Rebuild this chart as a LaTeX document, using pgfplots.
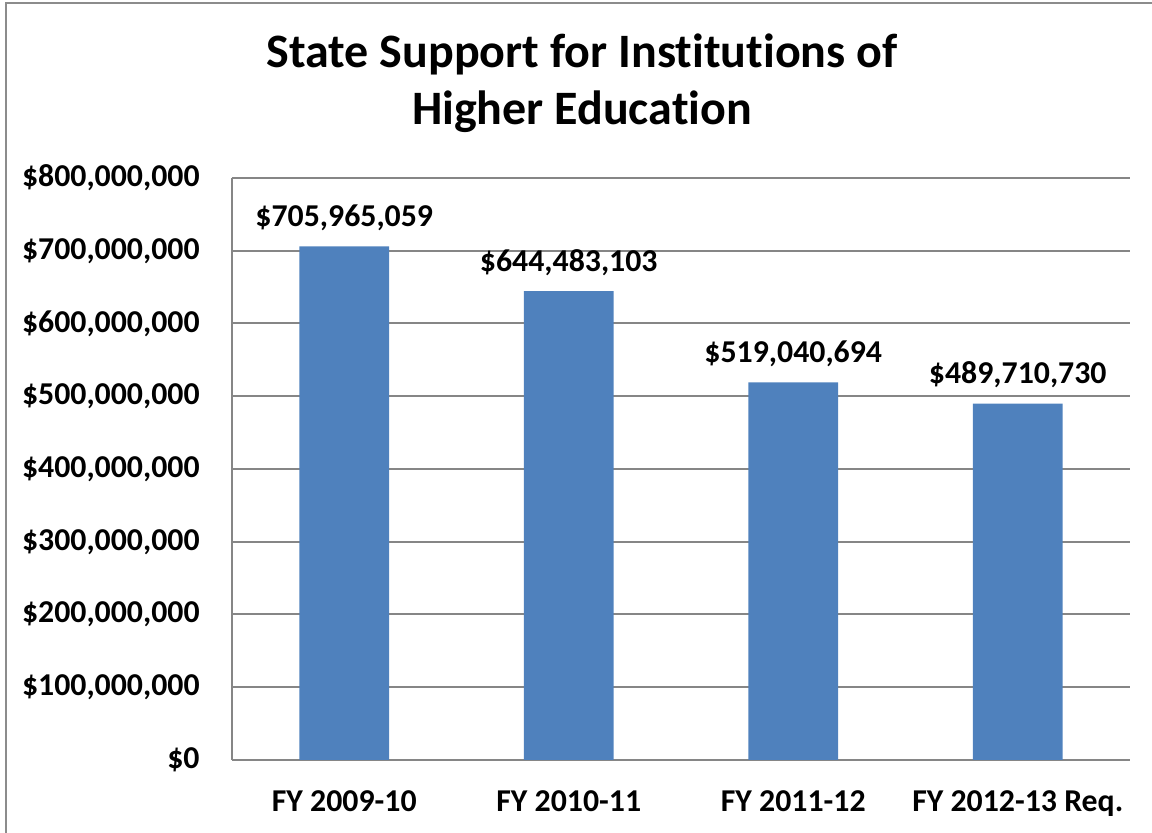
\documentclass[border=0pt]{standalone}
\usepackage{pgfplots}
\pgfplotsset{compat=1.18}
\usepackage{fontspec}
\setmainfont[Ligatures=NoCommon]{Carlito}
\definecolor{barblue}{HTML}{4F81BD}
\definecolor{gridgray}{HTML}{868686}
\definecolor{framegray}{HTML}{8C8C8C}
\begin{document}
\begin{tikzpicture}
\useasboundingbox (0,0) rectangle (576pt,416.5pt);
\draw[framegray, line width=1pt] (3pt,0) -- (3pt,415pt) -- (576pt,415pt);
\node[anchor=base, inner sep=0pt, font=\fontsize{24}{28}\selectfont\bfseries] at (291pt,382.5pt) {State Support for Institutions of};
\node[anchor=base, inner sep=0pt, font=\fontsize{24}{28}\selectfont\bfseries] at (291pt,354pt) {Higher Education};
\begin{axis}[
  at={(116pt,36.5pt)}, anchor=south west,
  scale only axis, width=449pt, height=291pt,
  xmin=-0.5, xmax=3.5, ymin=0, ymax=800000000,
  axis x line*=bottom, axis y line*=left,
  axis line style={gridgray, line width=1pt},
  ymajorgrids, major grid style={gridgray, line width=1pt},
  major tick length=0pt,
  xtick={0,1,2,3},
  xticklabels={FY 2009-10, FY 2010-11, FY 2011-12, FY 2012-13 Req.},
  ytick={0,100000000,200000000,300000000,400000000,500000000,600000000,700000000,800000000},
  yticklabels={{\$0},{\$100,000,000},{\$200,000,000},{\$300,000,000},{\$400,000,000},{\$500,000,000},{\$600,000,000},{\$700,000,000},{\$800,000,000}},
  tick label style={font=\fontsize{15.9}{18}\selectfont\bfseries, inner sep=0pt},
  yticklabel style={anchor=east, xshift=-16pt},
  xticklabel style={anchor=base, yshift=-26pt},
  scaled y ticks=false,
  ybar, bar width=0.4,
  nodes near coords={\pgfplotspointmeta},
  point meta=explicit symbolic,
  nodes near coords style={anchor=base, yshift=10pt, inner sep=0pt, font=\fontsize{15.9}{18}\selectfont\bfseries, text=black},
  clip=false,
]
\addplot[fill=barblue, draw=none] table[x=x, y=y, meta=label] {
x y label
0 705965059 {\$705,965,059}
1 644483103 {\$644,483,103}
2 519040694 {\$519,040,694}
3 489710730 {\$489,710,730}
};
\end{axis}
\end{tikzpicture}
\end{document}
